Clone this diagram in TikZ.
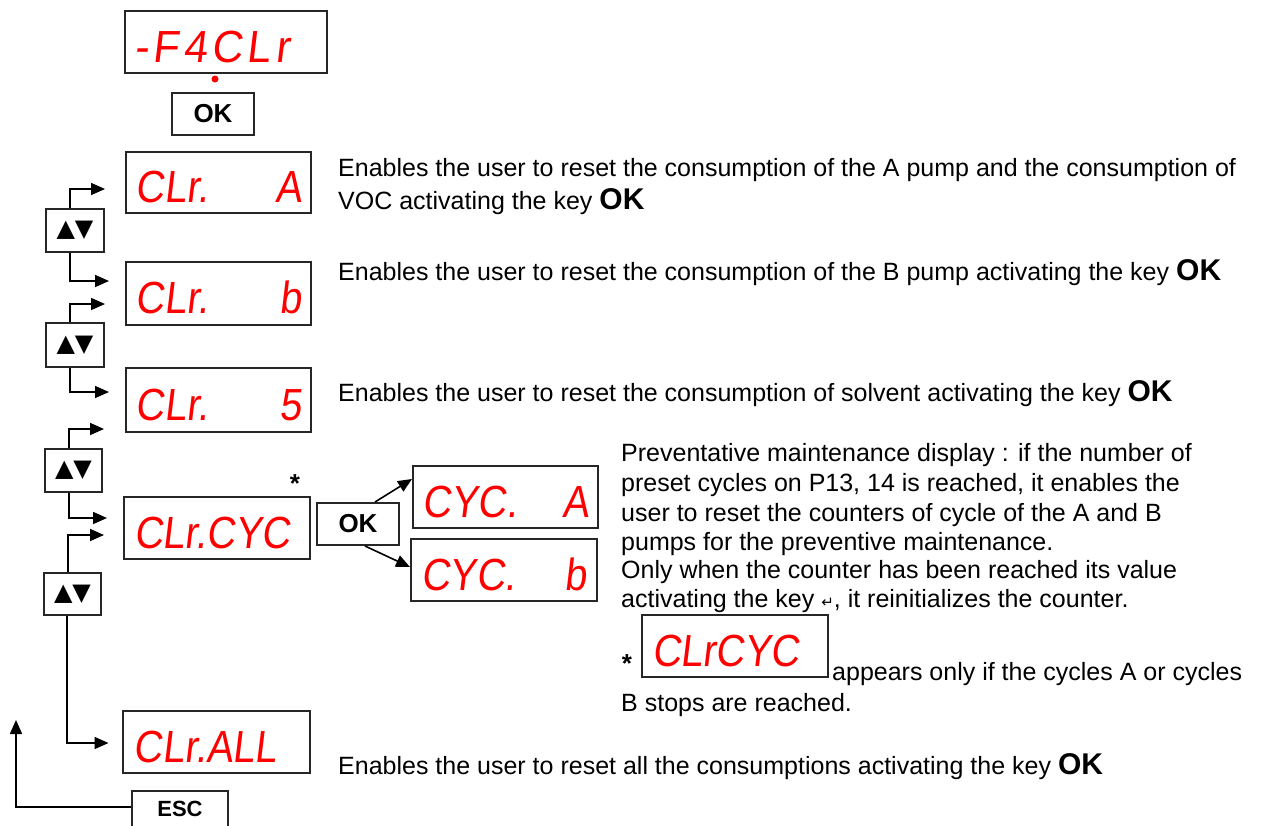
\documentclass[tikz,border=0pt]{standalone}
\usepackage{fontspec}
\setmainfont{Liberation Sans}
\newfontfamily\segfont[FakeSlant=0.12,FakeStretch=0.88]{Liberation Sans}
\newfontfamily\segwide[FakeSlant=0.12,FakeStretch=0.95,LetterSpace=10]{Liberation Sans}
\newfontfamily\djv{DejaVu Sans}
\usetikzlibrary{arrows.meta,calc}
\newcommand{\segtxt}[2]{\raisebox{-20pt}[0pt][0pt]{\makebox[166pt]{#1\hfill #2}}}
\newcommand{\segl}[1]{\raisebox{-20pt}[0pt][0pt]{\makebox[166pt][l]{#1}}}
\newcommand{\okb}{\textbf{\fontsize{30}{30}\selectfont OK}}
\begin{document}
\begin{tikzpicture}[x=1pt,y=-1pt,
  disp/.style={draw=black!85, line width=2pt, minimum width=186pt, minimum height=62pt,
    inner sep=0pt, text=red, font=\segfont\fontsize{45}{45}\selectfont},
  keybox/.style={draw=black!85, line width=2pt, minimum width=82pt, minimum height=42pt,
    inner sep=0pt, font=\bfseries\fontsize{26}{26}\selectfont},
  udbox/.style={draw=black!85, line width=2pt, minimum width=58pt, minimum height=43pt,
    inner sep=0pt, font=\djv\fontsize{24}{24}\selectfont},
  arr/.style={line width=1.6pt, -{Triangle[length=14pt,width=12pt]}},
  txt/.style={anchor=base west, inner sep=0pt, font=\fontsize{25}{30}\selectfont},
  star/.style={inner sep=0pt, font=\bfseries\fontsize{26}{26}\selectfont}]
\clip (0,0) rectangle (1261,825);
% displays
\node[disp, minimum width=202pt, font=\segwide\fontsize{45}{45}\selectfont] (top) at (226,42) {\raisebox{-20pt}[0pt][0pt]{\makebox[184pt][l]{-F4CLr}}};
\fill[red] (215,79) circle (3.5pt) coordinate (dot);
\node[keybox] (ok1) at (213,114) {OK};
\node[disp, minimum width=185pt, minimum height=61pt] (clra) at (218.5,182.5) {\segtxt{CLr.}{A}};
\node[disp, minimum width=185pt, minimum height=63pt] (clrb) at (218.5,293.5) {\segtxt{CLr.}{b}};
\node[disp, minimum width=185pt, minimum height=64pt] (clrs) at (218.5,400) {\segtxt{CLr.}{5}};
\node[disp] (clrc) at (217,528) {\segl{CLr.CYC}};
\node[disp, minimum width=187pt] (clrall) at (216.5,742) {\segl{CLr.ALL}};
\node[star] (st1) at (295,484) {*};
% up/down keys
\node[udbox] (ud1) at (75,230.5) {▲▼};
\node[udbox, minimum height=44pt] (ud2) at (75,345) {▲▼};
\node[udbox, minimum width=57pt] (ud3) at (73.5,470.5) {▲▼};
\node[udbox, minimum width=57pt, minimum height=42pt] (ud4) at (72.5,594) {▲▼};
\node[keybox, minimum width=96pt, minimum height=38pt, font=\bfseries\fontsize{22}{22}\selectfont] (esc) at (180,810) {\raisebox{2pt}{ESC}};
\coordinate (escend) at (16,720);
% arrows
\draw[arr] ([xshift=-5pt]ud1.north) |- ($(clra.west)+(-20,6.5)$);
\draw[arr] ([xshift=-5pt]ud1.south) |- ($(clrb.west)+(-16,-12.5)$);
\draw[arr] ([xshift=-5pt]ud2.north) |- ($(clrb.west)+(-20,10.5)$);
\draw[arr] ([xshift=-5pt]ud2.south) |- ($(clrs.west)+(-16,-8)$);
\draw[arr] ([xshift=-4.5pt]ud3.north) |- ($(clrs.west)+(-21,29)$);
\draw[arr] ([xshift=-4.5pt]ud3.south) |- ($(clrc.west)+(-16,-10)$);
\draw[arr] ([xshift=-4.5pt]ud4.north) |- ($(clrc.west)+(-19,7)$);
\draw[arr] ([xshift=-5.5pt]ud4.south) |- ($(clrall.west)+(-13.5,1)$);
\draw[arr] ([yshift=3pt]esc.west) -| (escend);
% cycle sub-menu
\node[keybox] (ok2) at (358,524) {OK};
\node[disp, minimum width=185pt] (cyca) at (505.5,497) {\segtxt{CYC.}{A}};
\node[disp] (cycb) at (504,570) {\segtxt{CYC.}{b}};
\draw[arr] ([xshift=17pt]ok2.north) -- ($(cyca.west)+(0,-18)$);
\draw[arr] ([xshift=7pt]ok2.south) -- ($(cycb.west)+(0,-3)$);
% descriptions
\node[txt] (t1) at (338,176) {Enables the user to reset the consumption of the A pump and the consumption of};
\node[txt] (t1b) at (338,209) {VOC activating the key \okb};
\node[txt] (t2) at (338,280) {Enables the user to reset the consumption of the B pump activating the key \okb};
\node[txt] (t3) at (338,401) {Enables the user to reset the consumption of solvent activating the key \okb};
\node[txt] (t4) at (338,774) {Enables the user to reset all the consumptions activating the key \okb};
\node[txt] (p1) at (621,461) {Preventative maintenance display : if the number of};
\node[txt] (p2) at (621,491) {preset cycles on P13, 14 is reached, it enables the};
\node[txt] (p3) at (621,521) {user to reset the counters of cycle of the A and B};
\node[txt] (p4) at (621,550) {pumps for the preventive maintenance.};
\node[txt] (p5) at (621,578) {Only when the counter has been reached its value};
\node[txt] (p6) at (621,607) {activating the key {\djv\fontsize{15}{15}\selectfont ↵}, it reinitializes the counter.};
\node[star] (st2) at (627,664) {*};
\node[disp] (cyc2) at (735,646) {\segl{CLrCYC}};
\node[txt] (p7) at (832,680) {appears only if the cycles A or cycles};
\node[txt] (p8) at (621,711) {B stops are reached.};
\end{tikzpicture}
\end{document}
